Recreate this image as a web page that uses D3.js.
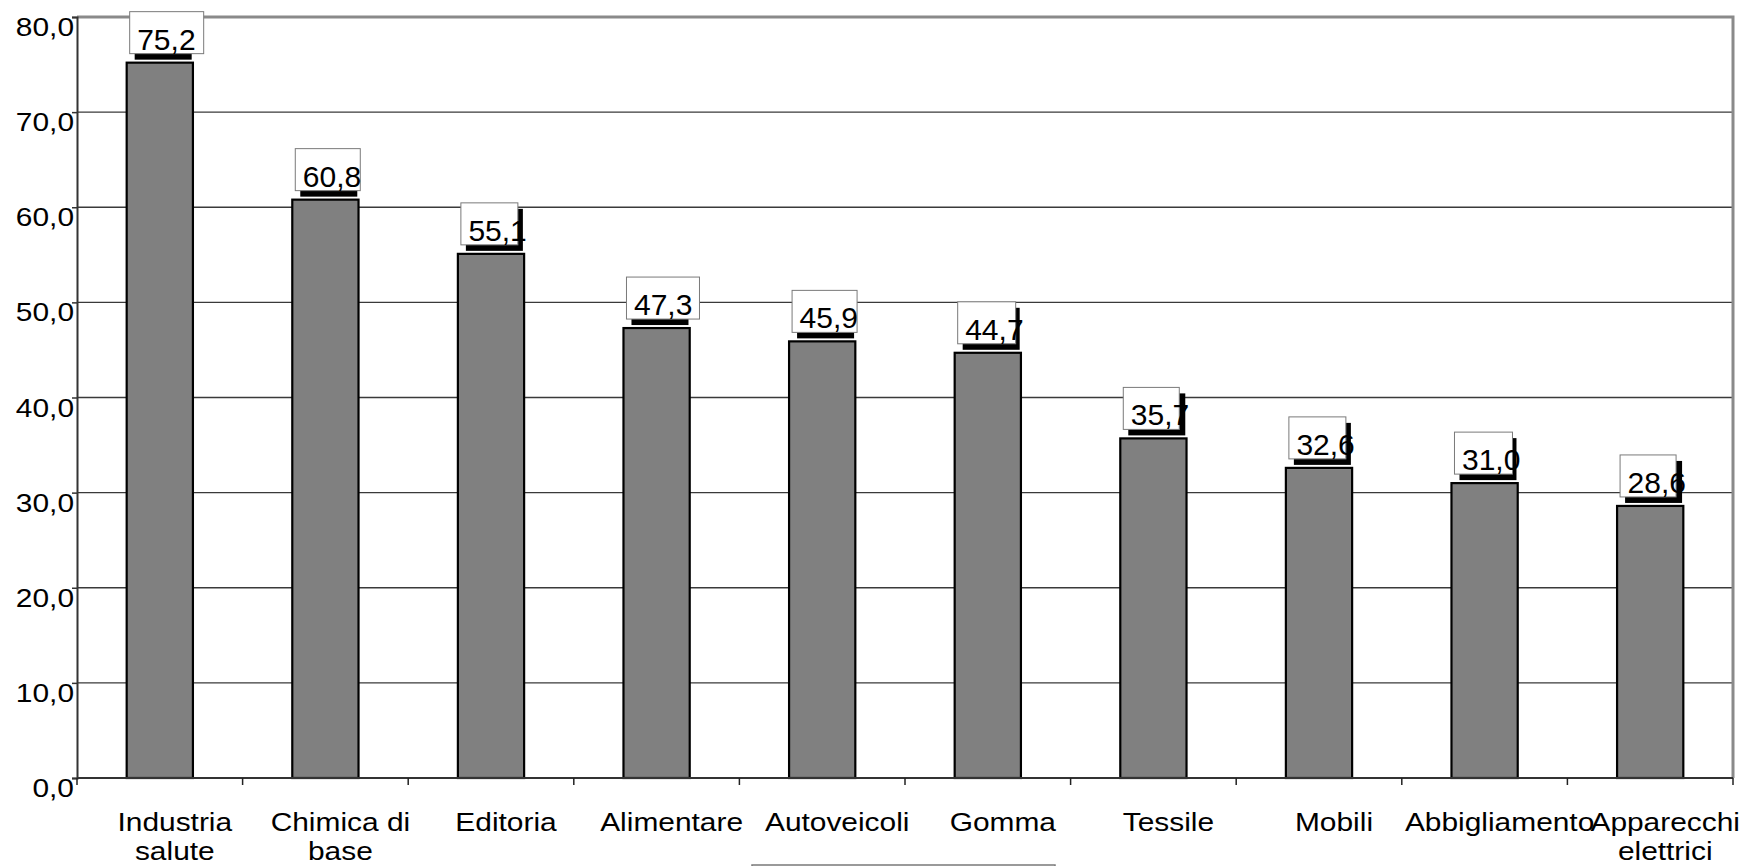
<!DOCTYPE html>
<html>
<head>
<meta charset="utf-8">
<script src="https://cdn.jsdelivr.net/npm/d3@7"></script>
<style>
  html, body { margin: 0; padding: 0; background: #fff; }
  svg { display: block; font-family: "Liberation Sans", Arial, sans-serif; }
</style>
</head>
<body>
<svg id="chart" width="1748" height="866"></svg>
<script>
// Sector names (two-line labels split on "\n")
const categories = [
  "Industria\nsalute", "Chimica di\nbase", "Editoria", "Alimentare", "Autoveicoli",
  "Gomma", "Tessile", "Mobili", "Abbigliamento", "Apparecchi\nelettrici"
];
// Percentages per sector
const values = [75.2, 60.8, 55.1, 47.3, 45.9, 44.7, 35.7, 32.6, 31.0, 28.6];
// Y axis ticks
const yTicks = [0, 10, 20, 30, 40, 50, 60, 70, 80];

// Value-label box widths (some boxes are narrower than their text)
const labelBoxWidth = [74, 65, 57, 73, 65, 58, 56, 57, 58, 56];

const W = 1748, H = 866;
const plot = { left: 77, right: 1733, top: 17, bottom: 778 };

const it = d3.formatLocale({ decimal: ",", thousands: ".", grouping: [3], currency: ["", "€"] });
const fmt = it.format(".1f");

const svg = d3.select("#chart");

const y = d3.scaleLinear().domain([0, 80]).range([plot.bottom, plot.top]);
const x = d3.scaleBand().domain(categories).range([plot.left, plot.right])
  .paddingInner(0.6).paddingOuter(0.3);
const xCat = d3.scaleBand().domain(categories).range([plot.left, plot.right]).padding(0);

// Horizontal grid lines
svg.append("g")
  .selectAll("line")
  .data(yTicks.filter(t => t > 0 && t < 80))
  .join("line")
  .attr("x1", plot.left).attr("x2", plot.right)
  .attr("y1", d => y(d)).attr("y2", d => y(d))
  .attr("stroke", "#3a3a3a").attr("stroke-width", 1.3);

// Plot frame (top and right edges)
svg.append("path")
  .attr("d", `M${plot.left},${y(80)}H${plot.right}V${plot.bottom}`)
  .attr("fill", "none").attr("stroke", "#8a8a8a").attr("stroke-width", 3);

// Bars
svg.append("g")
  .selectAll("rect")
  .data(values)
  .join("rect")
  .attr("x", (d, i) => x(categories[i]))
  .attr("y", d => y(d))
  .attr("width", x.bandwidth())
  .attr("height", d => y(0) - y(d))
  .attr("fill", "#808080")
  .attr("stroke", "#000")
  .attr("stroke-width", 2.2);

// Y axis
const yAxis = svg.append("g")
  .attr("transform", `translate(${plot.left},0)`)
  .call(d3.axisLeft(y).tickValues(yTicks).tickSize(5).tickPadding(0).tickFormat(fmt));
yAxis.select(".domain").attr("stroke", "#333").attr("stroke-width", 2);
yAxis.selectAll(".tick line").attr("stroke", "#333").attr("stroke-width", 1.5);
yAxis.selectAll(".tick text")
  .attr("x", 0).attr("dy", null).attr("y", 0)
  .attr("font-size", 26).attr("fill", "#000").attr("text-anchor", "end")
  .attr("transform", "translate(-3,18.5) scale(1.15,1)");

// X axis baseline and category separators
svg.append("line")
  .attr("x1", plot.left).attr("x2", plot.right)
  .attr("y1", y(0)).attr("y2", y(0))
  .attr("stroke", "#333").attr("stroke-width", 2);
svg.append("g")
  .selectAll("line")
  .data(categories.map((c, i) => i).concat([categories.length]))
  .join("line")
  .attr("x1", i => plot.left + i * xCat.step())
  .attr("x2", i => plot.left + i * xCat.step())
  .attr("y1", y(0)).attr("y2", y(0) + 7)
  .attr("stroke", "#222").attr("stroke-width", 1.5);

// Category labels
const catG = svg.append("g")
  .selectAll("g")
  .data(categories)
  .join("g")
  .attr("transform", d => `translate(${xCat(d) + xCat.bandwidth() / 2 + 15},0)`);
catG.each(function(d) {
  const lines = d.split("\n");
  d3.select(this).selectAll("text")
    .data(lines)
    .join("text")
    .attr("text-anchor", "middle")
    .attr("font-size", 26)
    .attr("fill", "#000")
    .attr("transform", (l, j) => `translate(0,${831 + j * 29}) scale(1.15,1)`)
    .text(l => l);
});

// Value labels: shadowed boxes above each bar
const lab = svg.append("g")
  .selectAll("g")
  .data(values)
  .join("g")
  .attr("transform", (d, i) => `translate(${x(categories[i]) + 3},${y(d) - 51})`);
lab.append("rect")
  .attr("x", 5).attr("y", 6).attr("width", 57).attr("height", 42)
  .attr("fill", "#000");
lab.append("rect")
  .attr("x", 0).attr("y", 0)
  .attr("width", (d, i) => labelBoxWidth[i]).attr("height", 42)
  .attr("fill", "#fff").attr("stroke", "#7a7a7a").attr("stroke-width", 1);
lab.append("text")
  .attr("x", 7.5).attr("y", 38)
  .attr("font-size", 30).attr("fill", "#000")
  .text(d => fmt(d));

// Legend frame (cut off at the bottom edge)
svg.append("rect")
  .attr("x", 752).attr("y", 865).attr("width", 303).attr("height", 40)
  .attr("fill", "#fff").attr("stroke", "#7a7a7a").attr("stroke-width", 1.5);
</script>
</body>
</html>
